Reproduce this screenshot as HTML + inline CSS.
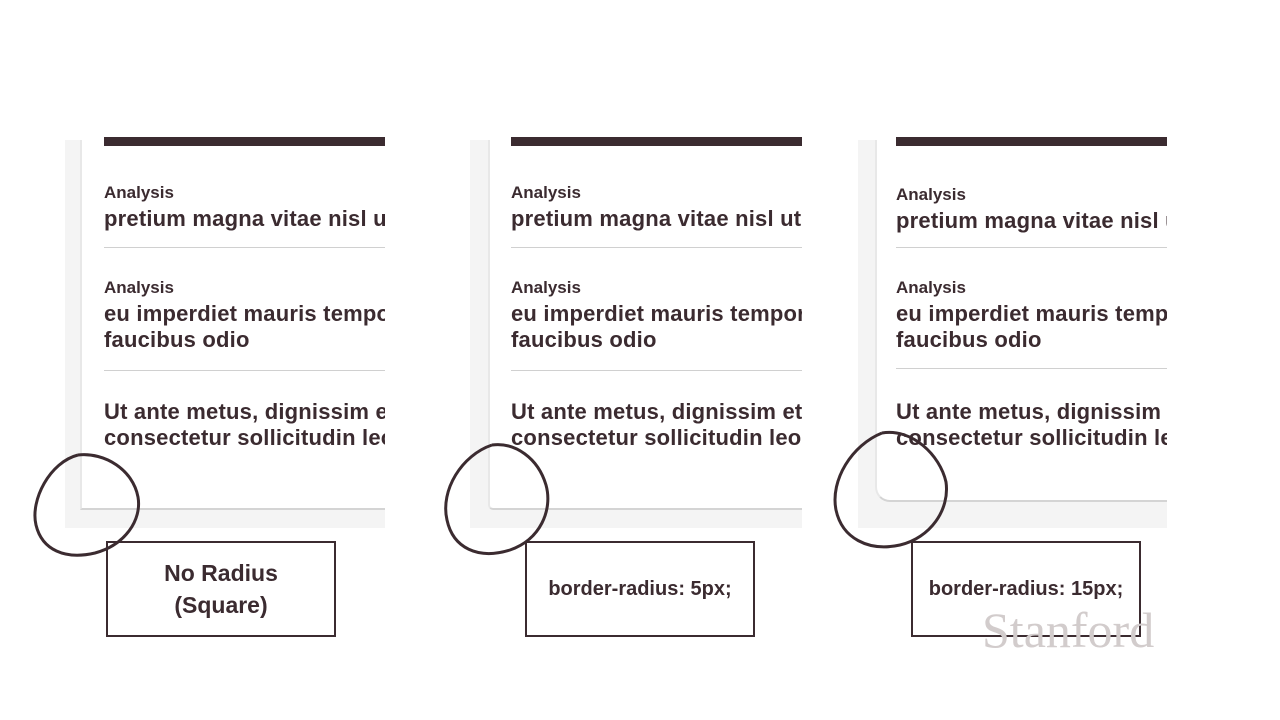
<!DOCTYPE html>
<html><head><meta charset="utf-8"><style>
body{margin:0;width:1280px;height:720px;background:#fff;position:relative;overflow:hidden;font-family:"Liberation Sans",sans-serif;color:#3b2b30}
.frame{position:absolute;background:#f4f4f4;overflow:hidden}
.card{position:absolute;box-sizing:border-box;background:#fff;border-left:2px solid #e8e8e8;border-bottom:2px solid #d4d4d4}
.bar{position:absolute;height:9px;background:#3b2b30}
.t{position:absolute;white-space:nowrap;font-weight:bold}
.sm{font-size:17px}
.lg{font-size:22px;line-height:26px;letter-spacing:0.2px}
.hr{position:absolute;height:1px;background:#d0d0d0}
.lab{position:absolute;border:2px solid #3b2b30;width:226px;height:92px;display:flex;align-items:center;justify-content:center;text-align:center;font-family:"Liberation Sans",sans-serif;font-weight:bold;font-size:20px;line-height:32px;color:#3b2b30}
</style></head><body>
<div>
<div class="frame" style="left:65px;top:140px;width:320px;height:388px"></div>
<div class="card" style="left:80px;top:140px;width:305px;height:370px"></div>
<div class="bar" style="left:104px;top:137px;width:281px"></div>
<div style="position:absolute;left:104px;top:140px;width:281px;height:320px;overflow:hidden">
<div class="t sm" style="left:0;top:43px">Analysis</div>
<div class="t lg" style="left:0;top:66px">pretium magna vitae nisl ut</div>
<div class="hr" style="left:0;top:107px;width:281px"></div>
<div class="t sm" style="left:0;top:138px">Analysis</div>
<div class="t lg" style="left:0;top:161px">eu imperdiet mauris tempor<br>faucibus odio</div>
<div class="hr" style="left:0;top:230px;width:281px"></div>
<div class="t lg" style="left:0;top:259px">Ut ante metus, dignissim et<br>consectetur sollicitudin leo</div>
</div></div>
<div>
<div class="frame" style="left:470px;top:140px;width:332px;height:388px"></div>
<div class="card" style="left:488px;top:140px;width:314px;height:370px;border-bottom-left-radius:5px"></div>
<div class="bar" style="left:511px;top:137px;width:291px"></div>
<div style="position:absolute;left:511px;top:140px;width:291px;height:320px;overflow:hidden">
<div class="t sm" style="left:0;top:43px">Analysis</div>
<div class="t lg" style="left:0;top:66px">pretium magna vitae nisl ut</div>
<div class="hr" style="left:0;top:107px;width:291px"></div>
<div class="t sm" style="left:0;top:138px">Analysis</div>
<div class="t lg" style="left:0;top:161px">eu imperdiet mauris tempor<br>faucibus odio</div>
<div class="hr" style="left:0;top:230px;width:291px"></div>
<div class="t lg" style="left:0;top:259px">Ut ante metus, dignissim et<br>consectetur sollicitudin leo</div>
</div></div>
<div>
<div class="frame" style="left:858px;top:140px;width:309px;height:388px"></div>
<div class="card" style="left:875px;top:140px;width:292px;height:362px;border-bottom-left-radius:15px"></div>
<div class="bar" style="left:896px;top:137px;width:271px"></div>
<div style="position:absolute;left:896px;top:140px;width:271px;height:320px;overflow:hidden">
<div class="t sm" style="left:0;top:45px">Analysis</div>
<div class="t lg" style="left:0;top:68px">pretium magna vitae nisl ut</div>
<div class="hr" style="left:0;top:107px;width:271px"></div>
<div class="t sm" style="left:0;top:138px">Analysis</div>
<div class="t lg" style="left:0;top:161px">eu imperdiet mauris tempor<br>faucibus odio</div>
<div class="hr" style="left:0;top:228px;width:271px"></div>
<div class="t lg" style="left:0;top:259px">Ut ante metus, dignissim et<br>consectetur sollicitudin leo</div>
</div></div>
<div class="lab" style="left:106px;top:541px;font-size:23px">No Radius<br>(Square)</div>
<div class="lab" style="left:525px;top:541px">border-radius: 5px;</div>
<div class="lab" style="left:911px;top:541px">border-radius: 15px;</div>
<div style="position:absolute;left:982px;top:601px;font-family:'Liberation Serif',serif;font-size:50px;color:#d2cccc">Stanford</div>
<svg width="1280" height="720" style="position:absolute;left:0;top:0" fill="none" stroke="#3b2b30" stroke-width="3">
<path d="M78 455 C50 462 30 500 36 525 C42 550 65 560 95 553 C125 545 142 520 138 497 C133 470 105 452 78 455"/>
<path d="M492 445 C462 455 440 490 447 520 C453 548 478 560 510 550 C540 540 553 510 546 485 C538 458 515 442 492 445"/>
<path d="M882 433 C852 445 830 480 836 510 C842 538 868 552 900 545 C930 538 950 510 946 482 C940 455 912 428 882 433"/>
</svg>
</body></html>
